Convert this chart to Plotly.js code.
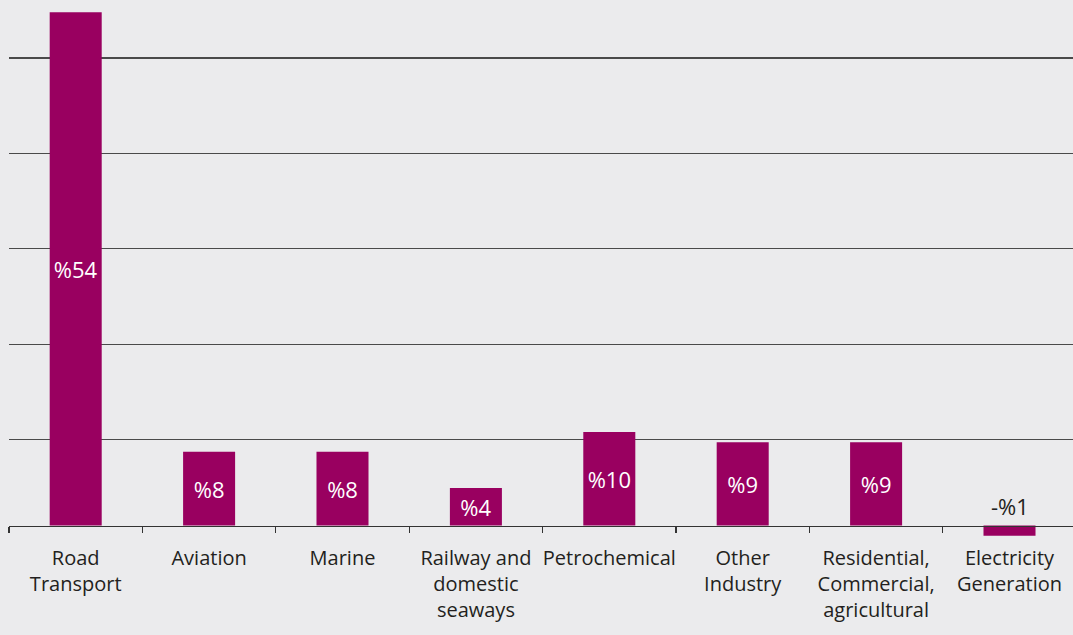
<!DOCTYPE html>
<html>
<head>
<meta charset="utf-8">
<script src="https://cdn.plot.ly/plotly-3.0.1.min.js"></script>
<style>
  html, body { margin: 0; padding: 0; background: #ebebed; overflow: hidden; }
  #chart { width: 1073px; height: 635px; }
</style>
</head>
<body>
<div id="chart"></div>
<script>
// Sector categories (tick labels)
const categories = [
  "Road<br>Transport",
  "Aviation",
  "Marine",
  "Railway and<br>domestic<br>seaways",
  "Petrochemical",
  "Other<br>Industry",
  "Residential,<br>Commercial,<br>agricultural",
  "Electricity<br>Generation"
];
// Bar heights (share, %)
const shares = [54.9, 7.9, 7.9, 4.0, 10.0, 8.9, 8.9, -1.1];
// Printed labels
const shareLabels = ["%54", "%8", "%8", "%4", "%10", "%9", "%9", "-%1"];
// Horizontal gridline values
const gridVals = [9.2, 19.4, 29.6, 39.8, 50.0];

const yMin = -1.55, yMax = 56.2;
const xRange = [-0.5, 7.476];
const axisPos = (0 - yMin) / (yMax - yMin);

const trace = {
  type: "bar",
  x: categories,
  y: shares,
  width: 0.39,
  marker: { color: "#990060" },
  text: shares.map((v, i) => v >= 0 ? shareLabels[i] : ""),
  textposition: "inside",
  insidetextanchor: "middle",
  textangle: 0,
  constraintext: "none",
  textfont: { family: "Open Sans, Noto Sans, sans-serif", size: 22, color: "#ffffff" },
  hoverinfo: "none",
  cliponaxis: false
};

const annotations = shares.map((v, i) => v < 0 ? {
  x: categories[i], y: 0, xref: "x", yref: "y",
  text: shareLabels[i], showarrow: false,
  yanchor: "bottom", yshift: 3,
  font: { family: "Open Sans, Noto Sans, sans-serif", size: 22, color: "#231f20" }
} : null).filter(a => a);

const layout = {
  width: 1073, height: 635,
  margin: { l: 9, r: 0, t: 0, b: 95 },
  paper_bgcolor: "#ebebed",
  plot_bgcolor: "#ebebed",
  showlegend: false,
  font: { family: "Open Sans, Noto Sans, sans-serif", color: "#231f20" },
  xaxis: {
    type: "category",
    categoryarray: categories,
    range: xRange,
    tickson: "boundaries",
    ticks: "outside",
    ticklen: 6,
    tickwidth: 1.2,
    tickcolor: "#333333",
    tickangle: 0,
    showline: true,
    linecolor: "#333333",
    linewidth: 1.5,
    showgrid: false,
    anchor: "free",
    position: axisPos,
    ticklabelstandoff: 14,
    tickfont: { family: "Open Sans, Noto Sans, sans-serif", size: 20, color: "#231f20" },
    fixedrange: true
  },
  xaxis2: {
    overlaying: "x",
    type: "linear",
    range: xRange,
    tick0: -0.5,
    dtick: 1,
    ticks: "inside",
    ticklen: 7,
    tickwidth: 1.2,
    tickcolor: "#333333",
    showticklabels: false,
    showline: false,
    showgrid: false,
    zeroline: false,
    anchor: "free",
    position: axisPos,
    side: "bottom"
  },
  yaxis: {
    range: [yMin, yMax],
    tickmode: "array",
    tickvals: gridVals,
    showticklabels: false,
    ticks: "",
    showgrid: true,
    gridcolor: "#4a4a4a",
    gridwidth: 1.2,
    zeroline: false,
    showline: false,
    fixedrange: true
  },
  annotations: annotations,
  bargap: 0.61
};

Plotly.newPlot("chart", [trace], layout, { displayModeBar: false, staticPlot: true });
</script>
</body>
</html>
